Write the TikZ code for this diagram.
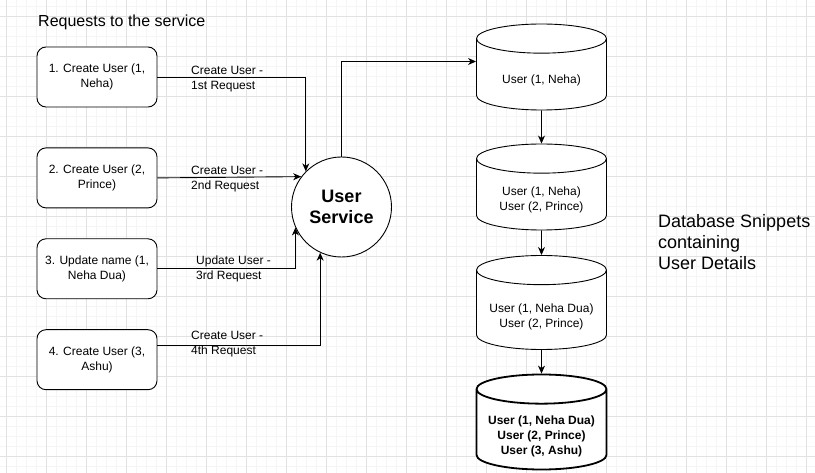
\documentclass[tikz,border=0pt]{standalone}
\usepackage{fontspec}
\setmainfont{Liberation Sans}
\usetikzlibrary{shapes.geometric,arrows.meta,positioning}
\definecolor{gridmajor}{RGB}{226,226,226}
\definecolor{gridminor}{RGB}{245,245,245}
\tikzset{
  reqbox/.style={
    rectangle, rounded corners=9pt, draw=black, line width=0.9pt,
    fill=white, minimum width=120pt, minimum height=60pt,
    align=center, font=\fontsize{12}{15}\selectfont
  },
  svcnode/.style={
    circle, draw=black, line width=0.9pt, fill=white, minimum size=100pt,
    align=center, font=\fontsize{18}{21}\selectfont\bfseries
  },
  dbnode/.style={
    cylinder, shape border rotate=90, aspect=0.25, draw=black,
    line width=0.9pt, fill=white, text width=110pt,
    minimum width=130pt, minimum height=86pt
  },
  dbfinal/.style={dbnode, line width=1.8pt, minimum height=95pt},
  dbtext/.style={align=center, inner sep=0pt, font=\fontsize{12}{15}\selectfont},
  edgelbl/.style={anchor=west, align=left, inner sep=0pt,
    font=\fontsize{12}{15}\selectfont},
  arrow/.style={-{Stealth[length=8pt,width=7pt,inset=2.5pt]}, line width=0.9pt}
}

\begin{document}
\begin{tikzpicture}[x=1pt, y=-1pt]
  \useasboundingbox (0,0) rectangle (815,473);
  % grid
  \foreach \gx in {6.7,16.7,...,815} \draw[gridminor, line width=0.8pt] (\gx,0) -- (\gx,473);
  \foreach \gy in {6,16,...,473} \draw[gridminor, line width=0.8pt] (0,\gy) -- (815,\gy);
  \foreach \gx in {6.7,46.7,...,815} \draw[gridmajor, line width=0.8pt] (\gx,0) -- (\gx,473);
  \foreach \gy in {16,56,...,473} \draw[gridmajor, line width=0.8pt] (0,\gy) -- (815,\gy);

  \node[anchor=west, inner sep=0pt, font=\fontsize{16}{19}\selectfont]
    (title) at (38,22) {Requests to the service};

  \node[reqbox] (r1) at (97,77) {1. Create User (1,\\Neha)};
  \node[reqbox, below=40pt of r1] (r2) {2. Create User (2,\\Prince)};
  \node[reqbox, below=30pt of r2] (r3) {3. Update name (1,\\Neha Dua)};
  \node[reqbox, below=30pt of r3] (r4) {4. Create User (3,\\Ashu)};

  \node[svcnode] (svc) at (341.5,207) {User\\Service};

  % database snippets
  \node[dbnode, anchor=shape center] (db1) at (541.5,67) {};
  \node[dbnode, anchor=shape center] (db2) at (541.5,187) {};
  \node[dbnode, anchor=shape center, minimum height=94pt] (db3) at (541.5,302.5) {};
  \node[dbfinal, anchor=shape center] (db4) at (541.5,422) {};

  \node[dbtext] (t1) at ([yshift=-13pt]db1.shape center) {User (1, Neha)};
  \node[dbtext] (t2) at ([yshift=-13pt]db2.shape center) {User (1, Neha)\\User (2, Prince)};
  \node[dbtext] (t3) at ([yshift=-14pt]db3.shape center) {User (1, Neha Dua)\\User (2, Prince)};
  \node[dbtext, font=\fontsize{12}{15}\selectfont\bfseries]
    (t4) at ([yshift=-14pt]db4.shape center) {User (1, Neha Dua)\\User (2, Prince)\\User (3, Ashu)};

  \node[anchor=west, inner sep=0pt, align=left, font=\fontsize{18}{21}\selectfont]
    (dbnote) at (658,242) {Database Snippets\\containing\\User Details};

  \node[edgelbl] (l1) at (191,79) {Create User -\\1st Request};
  \node[edgelbl] (l2) at (191,179) {Create User -\\2nd Request};
  \node[edgelbl] (l3) at (196,269) {Update User -\\3rd Request};
  \node[edgelbl] (l4) at (191,344) {Create User -\\4th Request};

  \draw[arrow] (r1.east) -| (svc.135);
  \draw[arrow] (r2.east) -- (svc.143);
  \draw[arrow] (r3.east) -| (svc.204);
  \draw[arrow] ([yshift=14pt]r4.east) -| (svc.245);
  \draw[arrow] (svc.north) |- ([yshift=5.5pt]db1.shape center -| db1.west);

  \draw[arrow] (db1) -- (db2);
  \draw[arrow] (db2) -- (db3);
  \draw[arrow] (db3) -- (db4);
\end{tikzpicture}
\end{document}
